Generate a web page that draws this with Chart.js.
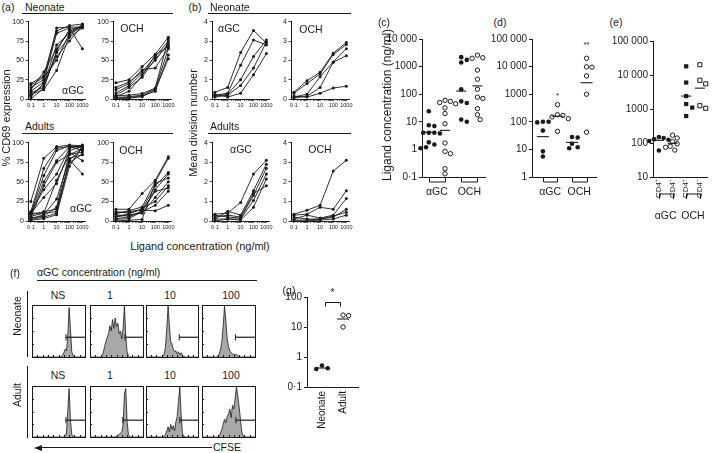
<!DOCTYPE html>
<html>
<head>
<meta charset="utf-8">
<script src="https://cdn.jsdelivr.net/npm/chart.js@4.4.1/dist/chart.umd.min.js"></script>
<style>
  body { margin: 0; background: #fff; }
  #fig { position: relative; width: 720px; height: 453px; overflow: hidden; font-family: "Liberation Sans", Arial, sans-serif; color: #1a1a1a; }
  #fig canvas { position: absolute; }
  .t { position: absolute; white-space: nowrap; line-height: 1; }
  .hl { position: absolute; height: 0; border-top: 1px solid #1a1a1a; }
  .vl { position: absolute; width: 0; border-left: 1px solid #1a1a1a; }
</style>
</head>
<body>
<div id="fig"></div>
<script>
// Concentrations (ng/ml) used in panels a and b
const conc = [0.1, 1, 10, 100, 1000];

// (a) % CD69 expression, one row per donor
const aNeoAGC = [
  [15, 25, 92, 93, 93], [20, 30, 88, 95, 97], [10, 22, 85, 92, 65], [5, 18, 70, 85, 96],
  [12, 35, 65, 88, 94], [8, 15, 60, 80, 92], [3, 20, 55, 75, 95], [18, 28, 50, 85, 93],
  [6, 12, 37, 82, 96], [0, 14, 62, 90, 94]
];
const aNeoOCH = [
  [21, 25, 42, 58, 80], [15, 22, 35, 55, 75], [8, 17, 33, 50, 72], [5, 15, 28, 52, 70],
  [12, 20, 38, 40, 66], [3, 10, 30, 57, 68], [2, 3, 5, 13, 65], [1, 2, 4, 10, 57],
  [0, 1, 3, 12, 52], [4, 5, 7, 14, 78]
];
const aAdAGC = [
  [25, 80, 95, 97, 96], [12, 67, 93, 95, 95], [10, 58, 90, 96, 93], [8, 50, 77, 95, 90],
  [5, 45, 75, 85, 92], [10, 30, 48, 90, 95], [6, 10, 52, 85, 88], [3, 8, 28, 80, 85],
  [10, 10, 12, 78, 60], [2, 5, 10, 78, 92], [8, 12, 15, 75, 85], [4, 6, 18, 88, 77],
  [1, 3, 8, 70, 95], [11, 40, 60, 93, 97]
];
const aAdOCH = [
  [15, 15, 35, 52, 82], [10, 13, 18, 50, 80], [12, 10, 15, 45, 62], [8, 6, 12, 40, 60],
  [5, 8, 10, 30, 50], [3, 5, 13, 38, 42], [2, 3, 12, 20, 38], [10, 12, 14, 13, 20],
  [0, 1, 2, 48, 55], [6, 9, 16, 25, 45]
];

// (b) mean division number
const bNeoAGC = [
  [0.35, 0.6, 2.4, 3.55, 2.9], [0.2, 0.3, 1.75, 3.05, 2.8], [0.15, 0.25, 1.0, 2.2, 3.05],
  [0.1, 0.2, 0.7, 1.6, 2.95], [0.25, 0.1, 0.3, 1.25, 2.35]
];
const bNeoOCH = [
  [0.35, 0.95, 1.38, 2.37, 2.92], [0.3, 0.8, 1.3, 2.3, 2.82], [0.1, 0.25, 1.15, 1.92, 2.6],
  [0.05, 0.15, 0.6, 1.9, 2.24], [0.15, 0.1, 0.3, 0.57, 0.66]
];
const bAdAGC = [
  [0.35, 0.4, 0.95, 2.4, 3.1], [0.1, 0.5, 0.3, 1.55, 2.9], [0.3, 0.2, 0.15, 1.3, 2.7],
  [0.1, 0.1, 0.1, 1.05, 2.4], [0.0, 0.1, 0.05, 0.7, 2.15], [0.2, 0.3, 0.2, 1.4, 1.8]
];
const bAdOCH = [
  [0.35, 0.55, 0.8, 2.55, 3.1], [0.3, 0.35, 0.7, 0.6, 1.55], [0.1, 0.3, 0.15, 0.3, 1.15],
  [0.2, 0.1, 0.1, 0.2, 0.6], [0.05, 0.05, 0.1, 0.25, 0.45], [0.0, 0.0, 0.05, 0.1, 0.3]
];

// (c) ligand concentration (ng/ml) : neonate (filled) / adult (open)
const groupNames = ['αGC', 'OCH'];
const cNeoAGC = [24, 7.5, 7, 4, 4, 4, 3.8, 3, 1.8, 1.5, 1.2, 1.1];
const cAdAGC = [60, 55, 50, 45, 32, 20, 8.5, 1.7, 0.85, 0.7, 0.2, 0.13];
const cNeoOCH = [2200, 1750, 1400, 150, 55, 48, 45, 12, 10];
const cAdOCH = [2600, 2100, 2000, 750, 350, 150, 78, 70, 30, 18, 12];
const cMeans = [4.2, 4.9, 130, 200];

// (d)
const dNeoAGC = [100, 100, 95, 48, 8.5, 5.5];
const dAdAGC = [420, 180, 170, 150, 130, 45];
const dNeoOCH = [28, 27, 16, 12, 11];
const dAdOCH = [20000, 9800, 9500, 4600, 1000, 42];
const dMeans = [29, 160, 18, 2600];
const dStars = ['', '*', '', '**'];
const dStarAt = [0, 900, 0, 60000];

// (e) CD4+ / CD4- subsets
const eSubsets = ['CD4⁺', 'CD4⁻', 'CD4⁺', 'CD4⁻'];
const eAGCpos = [150, 140, 130, 125, 115, 60];
const eAGCneg = [170, 140, 110, 95, 80, 75, 62];
const eOCHpos = [18000, 6000, 2400, 1400, 1100, 620];
const eOCHneg = [20000, 7000, 5500, 1250, 1050];
const eMeans = [120, 98, 2400, 4100];

// (f) CFSE histograms, bins of 2.5 % of the axis
const fDoses = ['NS', '1', '10', '100'];
const fBin = 2.5;
const fNeo = [
  [0,0,0,0,0,0,0,0,0,0, 0,0,0,0,0,0,0,0,0,0, 0,0,1,3,8,15,12,40,95,55, 10,2,0,0,0,0,0,0,0,0, 0],
  [0,0,0,0,0,0,0,0,0,2, 8,20,30,38,45,60,50,72,55,75, 58,65,45,50,35,55,98,40,10,2, 0,0,0,0,0,0,0,0,0,0, 0],
  [0,0,0,0,0,0,0,0,0,0, 0,0,0,2,6,20,55,98,60,30, 25,15,10,12,6,10,4,8,3,1, 0,0,0,0,0,0,0,0,0,0, 0],
  [0,0,0,0,0,0,0,0,0,0, 0,0,2,6,15,30,60,98,70,35, 20,12,8,6,5,4,5,2,1,0, 0,0,0,0,0,0,0,0,0,0, 0]
];
const fAdult = [
  [0,0,0,0,0,0,0,0,0,0, 0,0,0,0,0,0,0,0,0,0, 0,0,0,0,0,2,8,50,95,35, 5,0,0,0,0,0,0,0,0,0, 0],
  [0,0,0,0,0,0,0,0,0,0, 0,0,0,0,0,0,0,0,0,0, 1,3,5,8,10,25,85,95,30,5, 0,0,0,0,0,0,0,0,0,0, 0],
  [0,0,0,0,0,0,0,0,0,0, 0,0,0,0,1,5,12,20,10,25, 15,22,12,30,40,70,98,45,8,1, 0,0,0,0,0,0,0,0,0,0, 0],
  [0,0,0,0,0,0,0,0,0,0, 0,0,0,2,8,15,25,35,28,40, 45,55,38,62,55,75,98,80,60,35, 10,2,0,0,0,0,0,0,0,0, 0]
];
const fGateNeo = [64, 66, 64, 63];
const fGateAdult = [64, 62, 65, 64];
const fGateLevel = [38, 33];

// (g)
const gGroups = ['Neonate', 'Adult'];
const gNeo = [0.52, 0.42, 0.40];
const gAdult = [25, 24, 10];
const gMeans = [0.43, 18.5];

const INK = '#1a1a1a';
const FONT = '"Liberation Sans", Arial, sans-serif';
Chart.defaults.font.family = FONT;
Chart.defaults.color = INK;
Chart.defaults.animation = false;
Chart.defaults.responsive = false;
Chart.defaults.devicePixelRatio = 1;
Chart.defaults.plugins.legend.display = false;
Chart.defaults.plugins.tooltip.enabled = false;
Chart.defaults.events = [];

const fig = document.getElementById('fig');

// ---- small helpers ----
function isDecade(v) {
  const l = Math.log10(v);
  return Math.abs(l - Math.round(l)) < 1e-9;
}
function fmtNum(v) {
  if (v < 1) return '0·' + String(v).split('.')[1];
  if (v >= 10000) return String(v).replace(/\B(?=(\d{3})+(?!\d))/g, ' ');
  return String(v);
}
function decades(min, max) {
  const out = [];
  for (let e = Math.round(Math.log10(min)); e <= Math.round(Math.log10(max)); e++) out.push(Number(Math.pow(10, e).toPrecision(6)));
  return out;
}
function minorTicks(min, max) {
  const out = [];
  for (let e = Math.round(Math.log10(min)); e < Math.round(Math.log10(max)); e++) {
    for (let m = 1; m < 10; m++) out.push(Number((m * Math.pow(10, e)).toPrecision(6)));
  }
  out.push(max);
  return out;
}

function addText(str, x, y, size, mode) {
  const d = document.createElement('div');
  d.className = 't';
  d.textContent = str;
  d.style.fontSize = size + 'px';
  d.style.left = x + 'px';
  d.style.top = y + 'px';
  if (mode === 'rot') d.style.transform = 'translate(-50%,-50%) rotate(-90deg)';
  else if (mode === 'left') d.style.transform = 'translate(0,-50%)';
  else d.style.transform = 'translate(-50%,-50%)';
  fig.appendChild(d);
}
function hLine(x, y, w) {
  const d = document.createElement('div');
  d.className = 'hl';
  d.style.left = x + 'px'; d.style.top = y + 'px'; d.style.width = w + 'px';
  fig.appendChild(d);
}
function vLine(x, y, h) {
  const d = document.createElement('div');
  d.className = 'vl';
  d.style.left = x + 'px'; d.style.top = y + 'px'; d.style.height = h + 'px';
  fig.appendChild(d);
}

// put a chart so that its plot area lands on area = [left, top, right, bottom]
function makeChart(area, yw, xh, pad, config) {
  const [l, t, r, b] = area;
  const cv = document.createElement('canvas');
  const w = Math.round(r - l + yw + pad[1] + pad[3]);
  const h = Math.round(b - t + xh + pad[0] + pad[2]);
  cv.width = w; cv.height = h;
  cv.style.width = w + 'px'; cv.style.height = h + 'px';
  cv.style.left = (l - yw - pad[3]) + 'px';
  cv.style.top = (t - pad[0]) + 'px';
  fig.appendChild(cv);
  config.options.layout = { autoPadding: false, padding: { top: pad[0], right: pad[1], bottom: pad[2], left: pad[3] } };
  return new Chart(cv.getContext('2d'), config);
}

// ---- plugins : brackets, stars, histogram frame ----
Chart.register({
  id: 'brackets',
  afterDraw(chart, args, o) {
    if (!o || !o.pairs) return;
    const ctx = chart.ctx, xs = chart.scales.x;
    const top = (o.below ? xs.bottom : chart.chartArea.bottom) + o.gap;
    ctx.save();
    ctx.strokeStyle = INK; ctx.lineWidth = 1;
    o.pairs.forEach(([a, b]) => {
      const xa = Math.round(xs.getPixelForValue(a)) + 0.5;
      const xb = Math.round(xs.getPixelForValue(b)) + 0.5;
      ctx.beginPath();
      ctx.moveTo(xa, top); ctx.lineTo(xa, top + o.depth); ctx.lineTo(xb, top + o.depth); ctx.lineTo(xb, top);
      ctx.stroke();
    });
    ctx.restore();
  }
});
Chart.register({
  id: 'stars',
  afterDraw(chart, args, o) {
    if (!o || !o.marks) return;
    const ctx = chart.ctx, xs = chart.scales.x, ys = chart.scales.y;
    ctx.save();
    ctx.fillStyle = INK; ctx.strokeStyle = INK; ctx.lineWidth = 1;
    ctx.font = o.size + 'px ' + FONT;
    ctx.textAlign = 'center'; ctx.textBaseline = 'middle';
    o.marks.forEach(m => { if (m.text) ctx.fillText(m.text, xs.getPixelForValue(m.x), ys.getPixelForValue(m.y)); });
    if (o.bar) {
      const x0 = Math.round(xs.getPixelForValue(o.bar.from)) + 0.5;
      const x1 = Math.round(xs.getPixelForValue(o.bar.to)) + 0.5;
      const y = Math.round(ys.getPixelForValue(o.bar.at)) + 0.5;
      ctx.beginPath();
      ctx.moveTo(x0, y + o.bar.drop); ctx.lineTo(x0, y); ctx.lineTo(x1, y); ctx.lineTo(x1, y + o.bar.drop);
      ctx.stroke();
    }
    ctx.restore();
  }
});
Chart.register({
  id: 'frame',
  afterDraw(chart, args, o) {
    if (!o || !o.on) return;
    const ctx = chart.ctx, a = chart.chartArea;
    ctx.save();
    ctx.strokeStyle = INK; ctx.lineWidth = 1;
    ctx.strokeRect(Math.round(a.left) + 0.5, Math.round(a.top) + 0.5, Math.round(a.width), Math.round(a.height));
    ctx.beginPath();
    for (let i = 1; i < 10; i++) {
      const x = Math.round(a.left + a.width * i / 10) + 0.5;
      ctx.moveTo(x, a.bottom); ctx.lineTo(x, a.bottom - 2);
    }
    for (let i = 1; i < 4; i++) {
      const y = Math.round(a.top + a.height * i / 4) + 0.5;
      ctx.moveTo(a.left, y); ctx.lineTo(a.left + 2, y);
    }
    ctx.stroke();
    ctx.restore();
  }
});

// ---- panels a and b : dose response lines ----
function concAxis() {
  return {
    type: 'logarithmic', min: 0.06, max: 1600,
    afterBuildTicks: s => { s.ticks = minorTicks(0.1, 1000).map(v => ({ value: v })); },
    ticks: { autoSkip: false, maxRotation: 0, minRotation: 0, padding: 1.5, font: { size: 5.5 }, color: INK,
      callback: v => isDecade(v) ? fmtNum(v) : '' },
    grid: { drawOnChartArea: false, tickLength: 2, color: INK, lineWidth: 0.6 },
    border: { color: INK, width: 1 },
    afterFit: s => { s.height = 11; }
  };
}
function doseChart(area, series, yMax, yStep) {
  return makeChart(area, 18, 11, [5, 7, 0, 0], {
    type: 'line',
    data: {
      datasets: series.map(s => ({
        data: s.map((v, i) => ({ x: conc[i], y: v })),
        borderColor: INK, borderWidth: 0.9, tension: 0, clip: false,
        pointRadius: 1.5, pointBackgroundColor: INK, pointBorderWidth: 0
      }))
    },
    options: {
      scales: {
        x: concAxis(),
        y: {
          type: 'linear', min: 0, max: yMax,
          ticks: { stepSize: yStep, font: { size: 7 }, padding: 1.5, color: INK },
          grid: { drawOnChartArea: false, tickLength: 2.5, color: INK, lineWidth: 0.8 },
          border: { color: INK, width: 1 },
          afterFit: s => { s.width = 18; }
        }
      }
    }
  });
}

doseChart([28, 21, 85, 99], aNeoAGC, 100, 25);
doseChart([113, 21, 171, 99], aNeoOCH, 100, 25);
doseChart([28, 142, 85, 221], aAdAGC, 100, 25);
doseChart([113, 142, 171, 221], aAdOCH, 100, 25);
doseChart([212, 21, 269, 99], bNeoAGC, 4, 1);
doseChart([291, 21, 349, 99], bNeoOCH, 4, 1);
doseChart([212, 142, 269, 221], bAdAGC, 4, 1);
doseChart([291, 142, 349, 221], bAdOCH, 4, 1);

// ---- dot plots c, d, e, g ----
// spread the dots sideways so they do not sit on top of each other
function swarm(vals, ppd, ppu, diam) {
  const placed = [];
  const offs = new Array(vals.length).fill(0);
  const order = vals.map((v, i) => i).sort((a, b) => vals[b] - vals[a]);
  for (const i of order) {
    const y = Math.log10(vals[i]) * ppd;
    for (let k = 0; k < 40; k++) {
      const dx = (k % 2 ? 1 : -1) * Math.ceil(k / 2) * diam * 0.55;
      if (placed.every(p => Math.hypot(p.x - dx, p.y - y) >= diam)) {
        placed.push({ x: dx, y: y });
        offs[i] = dx / ppu;
        break;
      }
    }
  }
  return offs;
}
function dotSets(groups, styles, means, area, xr, yr, meanHalf) {
  const ppd = (area[3] - area[1]) / (Math.log10(yr[1]) - Math.log10(yr[0]));
  const ppu = (area[2] - area[0]) / (xr[1] - xr[0]);
  const sets = [];
  sets.push({
    data: means.map((m, gi) => ({ x: gi, y: m })),
    pointStyle: 'line', pointRadius: meanHalf, pointBorderColor: INK, pointBorderWidth: 1.1, clip: false
  });
  groups.forEach((vals, gi) => {
    const st = styles[gi];
    const offs = swarm(vals, ppd, ppu, st.r * 2 + 0.6);
    sets.push({
      data: vals.map((v, i) => ({ x: gi + offs[i], y: v })),
      pointStyle: st.shape, pointRadius: st.r,
      pointBackgroundColor: st.filled ? INK : '#fff',
      pointBorderColor: INK, pointBorderWidth: st.filled ? 0 : 1, clip: false
    });
  });
  return sets;
}
function logY(min, max, size, width) {
  return {
    type: 'logarithmic', min: min, max: max,
    afterBuildTicks: s => { s.ticks = decades(min, max).map(v => ({ value: v })); },
    ticks: { font: { size: size }, padding: 2, color: INK, callback: v => fmtNum(v) },
    grid: { drawOnChartArea: false, tickLength: 3, color: INK, lineWidth: 1 },
    border: { color: INK, width: 1 },
    afterFit: s => { s.width = width; }
  };
}
function groupX(xr, ticks, labels, pad, height, rot, size) {
  return {
    type: 'linear', min: xr[0], max: xr[1],
    afterBuildTicks: s => { s.ticks = ticks.map(v => ({ value: v })); },
    ticks: { autoSkip: false, minRotation: rot, maxRotation: rot, padding: pad, font: { size: size }, color: INK,
      callback: (v, i) => labels[i] },
    grid: { drawOnChartArea: false, drawTicks: false },
    border: { color: INK, width: 1 },
    afterFit: s => { s.height = height; }
  };
}

const filledC = { shape: 'circle', r: 2.3, filled: true };
const openC = { shape: 'circle', r: 2.2, filled: false };
const filledS = { shape: 'rect', r: 3, filled: true };
const openS = { shape: 'rect', r: 2.9, filled: false };

// (c)
const cArea = [422, 37, 487, 177], cX = [-0.42, 3.48], cY = [0.1, 10000];
makeChart(cArea, 36, 22, [6, 4, 0, 0], {
  type: 'scatter',
  data: { datasets: dotSets([cNeoAGC, cAdAGC, cNeoOCH, cAdOCH], [filledC, openC, filledC, openC], cMeans, cArea, cX, cY, 5) },
  options: {
    scales: { x: groupX(cX, [0.5, 2.5], groupNames, 9, 22, 0, 10.5), y: logY(cY[0], cY[1], 10, 36) },
    plugins: { brackets: { pairs: [[0, 1], [2, 3]], gap: 0, depth: 5 } }
  }
});

// (d)
const dArea = [532, 37, 597, 177], dX = [-0.75, 3.67], dY = [1, 100000];
makeChart(dArea, 40, 22, [6, 4, 0, 0], {
  type: 'scatter',
  data: { datasets: dotSets([dNeoAGC, dAdAGC, dNeoOCH, dAdOCH], [filledC, openC, filledC, openC], dMeans, dArea, dX, dY, 6) },
  options: {
    scales: { x: groupX(dX, [0.5, 2.5], groupNames, 9, 22, 0, 10.5), y: logY(dY[0], dY[1], 10, 40) },
    plugins: {
      brackets: { pairs: [[0, 1], [2, 3]], gap: 0, depth: 5 },
      stars: { size: 8, marks: dStars.map((s, i) => ({ text: s, x: i, y: dStarAt[i] })) }
    }
  }
});

// (e)
const eArea = [653, 39, 718, 177], eX = [-0.43, 3.56], eY = [10, 100000];
const eSubAxis = groupX(eX, [0, 1, 2, 3], eSubsets, 2, 21, 90, 8);
eSubAxis.weight = 1;
const eGroupAxis = groupX(eX, [0.5, 2.5], groupNames, 12, 26, 0, 10.5);
eGroupAxis.weight = 2;
eGroupAxis.position = 'bottom';
eGroupAxis.border = { display: false };
makeChart(eArea, 40, 47, [6, 2, 0, 0], {
  type: 'scatter',
  data: { datasets: dotSets([eAGCpos, eAGCneg, eOCHpos, eOCHneg], [filledC, openC, filledS, openS], eMeans, eArea, eX, eY, 5) },
  options: {
    scales: { x: eSubAxis, x2: eGroupAxis, y: logY(eY[0], eY[1], 10, 40) },
    plugins: { brackets: { pairs: [[0, 1], [2, 3]], gap: 1, depth: -5, below: true } }
  }
});

// (g)
const gArea = [307, 297, 358, 387], gX = [-0.714, 1.71], gY = [0.1, 100];
makeChart(gArea, 24, 50, [10, 4, 0, 0], {
  type: 'scatter',
  data: { datasets: dotSets([gNeo, gAdult], [filledC, openC], gMeans, gArea, gX, gY, 6) },
  options: {
    scales: { x: groupX(gX, [0, 1], gGroups, 4, 50, 90, 10), y: logY(gY[0], gY[1], 10, 24) },
    plugins: { stars: { size: 10, marks: [{ text: '*', x: 0.5, y: 130 }], bar: { from: 0.15, to: 0.85, at: 68, drop: 4 } } }
  }
});

// ---- (f) CFSE histograms ----
function histChart(box, counts, gate, level) {
  return makeChart(box, 0, 0, [1, 2, 2, 1], {
    type: 'line',
    data: {
      datasets: [
        { data: [{ x: gate, y: level }, { x: 100, y: level }], borderColor: INK, borderWidth: 1.2, pointRadius: 0, fill: false },
        { data: [{ x: gate, y: level - 6 }, { x: gate, y: level + 6 }], borderColor: INK, borderWidth: 1, pointRadius: 0, fill: false },
        { data: counts.map((c, i) => ({ x: i * fBin, y: c })), fill: 'origin', backgroundColor: '#a8a8a8',
          borderColor: INK, borderWidth: 0.8, pointRadius: 0, tension: 0 }
      ]
    },
    options: {
      scales: { x: { type: 'linear', display: false, min: 0, max: 100 }, y: { display: false, min: 0, max: 100 } },
      plugins: { frame: { on: true } }
    }
  });
}
const fCols = [[32, 85], [90, 143], [146, 198], [202, 255]];
fCols.forEach((c, i) => {
  histChart([c[0], 305, c[1], 357], fNeo[i], fGateNeo[i], fGateLevel[0]);
  histChart([c[0], 386, c[1], 437], fAdult[i], fGateAdult[i], fGateLevel[1]);
});

// ---- titles, labels, rules ----
addText('(a)', 8, 7, 10.5);
addText('Neonate', 25, 7, 10.5, 'left');
hLine(22, 13, 151);
addText('Adults', 25, 126, 10.5, 'left');
hLine(22, 133, 151);
addText('αGC', 73, 90, 10.5);
addText('OCH', 132, 28, 10.5);
addText('αGC', 81, 208, 10.5);
addText('OCH', 131, 150, 10.5);
addText('% CD69 expression', 6, 118, 11, 'rot');
addText('Ligand concentration (ng/ml)', 200, 246, 11);

addText('(b)', 195, 7, 10.5);
addText('Neonate', 210, 7, 10.5, 'left');
hLine(208, 13, 143);
addText('Adults', 210, 126, 10.5, 'left');
hLine(208, 133, 143);
addText('αGC', 229, 28, 10.5);
addText('OCH', 311, 29, 10.5);
addText('αGC', 241, 149, 10.5);
addText('OCH', 320, 149, 10.5);
addText('Mean division number', 193, 123, 11, 'rot');

addText('(c)', 384, 22, 10.5);
addText('Ligand concentration (ng/ml)', 387, 105, 12, 'rot');
addText('(d)', 500, 22, 10.5);
addText('(e)', 616, 22, 10.5);

addText('(f)', 15, 273, 10.5);
addText('αGC concentration (ng/ml)', 37, 272, 10.5, 'left');
hLine(37, 280, 220);
const fLabelX = [58, 110, 170, 231];
fDoses.forEach((d, i) => { addText(d, fLabelX[i], 295, 10.5); addText(d, fLabelX[i], 375, 10.5); });
addText('Neonate', 17, 316, 10.5, 'rot');
addText('Adult', 17, 395, 10.5, 'rot');
vLine(27, 291, 66);
vLine(27, 366, 72);
hLine(40, 447, 172);
const head = document.createElement('div');
head.style.cssText = 'position:absolute;left:34px;top:444.5px;width:0;height:0;border-top:3px solid transparent;border-bottom:3px solid transparent;border-right:8px solid #1a1a1a;';
fig.appendChild(head);
addText('CFSE', 213, 447, 10.5, 'left');

addText('(g)', 289, 290, 10.5);
</script>
</body>
</html>
